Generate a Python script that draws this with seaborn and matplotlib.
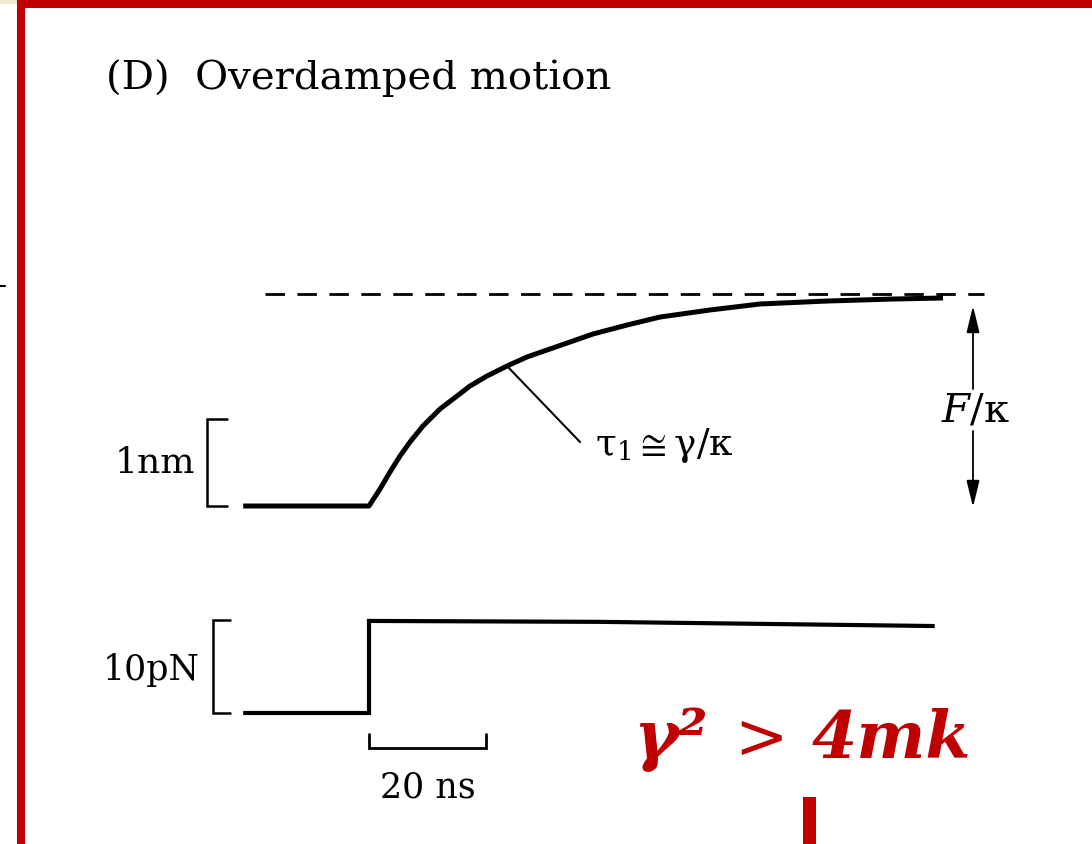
"""Overdamped motion: displacement and force traces after a force step."""

import matplotlib.pyplot as plt
import pandas as pd
import seaborn as sns
from matplotlib.lines import Line2D
from matplotlib.patches import Rectangle

# displacement trace (time in ns, displacement in nm)
disp_t = [-21.5, 0.0, 1.88, 3.59, 5.30, 7.01, 9.23, 12.14, 15.04, 17.26, 20.17, 23.59,
          27.01, 30.43, 34.36, 38.29, 44.10, 49.74, 58.29, 66.84, 78.29, 89.57, 98.12]
disp_nm = [0.0, 0.0, 0.195, 0.391, 0.575, 0.736, 0.920, 1.115, 1.264, 1.379, 1.494, 1.609,
           1.713, 1.793, 1.885, 1.977, 2.080, 2.172, 2.253, 2.322, 2.356, 2.379, 2.391]

# asymptote F/kappa
eq_t = [-17.8, 105.1]
eq_nm = [2.44, 2.44]

# applied force step (pN)
force_t = [-21.5, 0.0, 0.0, 39.5, 96.7]
force_pn = [0.0, 0.0, 9.9, 9.8, 9.35]

# scale bars
bar_nm = [0.0, 1.0]
bar_pn = [0.0, 10.0]
bar_ns = [0.0, 20.0]

TAU_IDX = 11  # point on the curve where the tau label points

W, H = 1092, 845
PX_PER_NS, T0_PX = 5.85, 369
NM_PX, BASE_PX = 87, 507
PN_PX, F0_PX = 9.3, 714
RED = "#C00000"
SERIF = ["DejaVu Serif", "DejaVu Sans"]


def fx(px):
    return px / W


def fy(py):
    return 1 - py / H


sns.set_theme(style="white")
plt.rcParams["font.family"] = SERIF
plt.rcParams["text.color"] = "black"
plt.rcParams["mathtext.fontset"] = "dejavuserif"

fig = plt.figure(figsize=(W / 100, H / 100), dpi=100)
ax_x = fig.add_axes([0, 0, 1, 1])
ax_f = fig.add_axes([0, 0, 1, 1])
for ax in (ax_x, ax_f):
    ax.set_xlim(-T0_PX / PX_PER_NS, (W - T0_PX) / PX_PER_NS)
    ax.axis("off")
ax_f.patch.set_visible(False)
ax_x.set_ylim((BASE_PX - H) / NM_PX, BASE_PX / NM_PX)
ax_f.set_ylim((F0_PX - H) / PN_PX, F0_PX / PN_PX)

disp = pd.DataFrame({"t": disp_t, "x": disp_nm})
force = pd.DataFrame({"t": force_t, "f": force_pn})
eq = pd.DataFrame({"t": eq_t, "x": eq_nm})

sns.lineplot(data=disp, x="t", y="x", ax=ax_x, color="black", lw=3.6,
             estimator=None, sort=False, solid_joinstyle="round", solid_capstyle="butt")
sns.lineplot(data=eq, x="t", y="x", ax=ax_x, color="black", lw=2.0,
             estimator=None, sort=False, dashes=False, linestyle=(0, (7, 4.5)))
sns.lineplot(data=force, x="t", y="f", ax=ax_f, color="black", lw=3.0,
             estimator=None, sort=False, solid_joinstyle="miter", solid_capstyle="butt")

# 1 nm bracket
bx0, bx1 = (207 - T0_PX) / PX_PER_NS, (227 - T0_PX) / PX_PER_NS
ax_x.plot([bx1, bx0, bx0, bx1], [bar_nm[1], bar_nm[1], bar_nm[0], bar_nm[0]],
          color="black", lw=1.8, solid_joinstyle="miter")
# 10 pN bracket
bx0, bx1 = (213 - T0_PX) / PX_PER_NS, (230 - T0_PX) / PX_PER_NS
ax_f.plot([bx1, bx0, bx0, bx1], [bar_pn[1], bar_pn[1], bar_pn[0], bar_pn[0]],
          color="black", lw=1.8, solid_joinstyle="miter")
# 20 ns bar
yb, yt = (F0_PX - 749) / PN_PX, (F0_PX - 735) / PN_PX
ax_f.plot([bar_ns[0], bar_ns[0], bar_ns[1], bar_ns[1]], [yt, yb, yb, yt],
          color="black", lw=2.0, solid_joinstyle="miter")

# tau leader line from the curve
lead_end = ((580 - T0_PX) / PX_PER_NS, (BASE_PX - 443) / NM_PX)
ax_x.plot([disp_t[TAU_IDX], lead_end[0]], [disp_nm[TAU_IDX], lead_end[1]],
          color="black", lw=1.5)

# F/kappa double arrow
ta = (973 - T0_PX) / PX_PER_NS
arrow = dict(arrowstyle="-|>,head_length=0.9,head_width=0.22", color="black",
             lw=1.3, mutation_scale=18, shrinkA=0, shrinkB=0)
ax_x.annotate("", xy=(ta, (BASE_PX - 307) / NM_PX), xytext=(ta, (BASE_PX - 390) / NM_PX),
              arrowprops=arrow)
ax_x.annotate("", xy=(ta, (BASE_PX - 508) / NM_PX), xytext=(ta, (BASE_PX - 432) / NM_PX),
              arrowprops=arrow)

# text
fig.text(fx(106), fy(89), "(D)  Overdamped motion", fontsize=29, va="baseline", ha="left")
fig.text(fx(195), fy(473), "1nm", fontsize=26, va="baseline", ha="right")
fig.text(fx(200), fy(680), "10pN", fontsize=25, va="baseline", ha="right")
fig.text(fx(428), fy(798), "20 ns", fontsize=25, va="baseline", ha="center")
fig.text(fx(595), fy(455), r"$\mathrm{\tau}_1 \cong \mathrm{\gamma}/\mathrm{\kappa}$",
         fontsize=27, va="baseline", ha="left")
fig.text(fx(975), fy(411), r"$F/\mathrm{\kappa}$", fontsize=29, va="center", ha="center")

fig.text(fx(633), fy(758), "γ²", fontsize=49, color=RED, fontweight="bold",
         fontstyle="italic", va="baseline", ha="left")
fig.text(fx(734), fy(758), ">", fontsize=46, color=RED, va="baseline", ha="left")
fig.text(fx(812), fy(758), "4mk", fontsize=47, color=RED, fontweight="bold",
         fontstyle="italic", va="baseline", ha="left")

# red frame and marks from the slide
fig.add_artist(Rectangle((0, fy(5)), fx(18), 5 / H, color="#F1E6CF", lw=0))
fig.add_artist(Line2D([fx(21), fx(21)], [fy(1), fy(H)], color=RED, lw=5.8,
                      solid_capstyle="butt"))
fig.add_artist(Line2D([fx(17), fx(W)], [fy(5), fy(5)], color=RED, lw=5.8,
                      solid_capstyle="butt"))
fig.add_artist(Rectangle((fx(803), 0), 13 / W, (H - 798) / H, color=RED, lw=0))
fig.add_artist(Line2D([fx(0), fx(5)], [fy(287), fy(287)], color="black", lw=1.5))

fig.savefig("out.png", dpi=100)
